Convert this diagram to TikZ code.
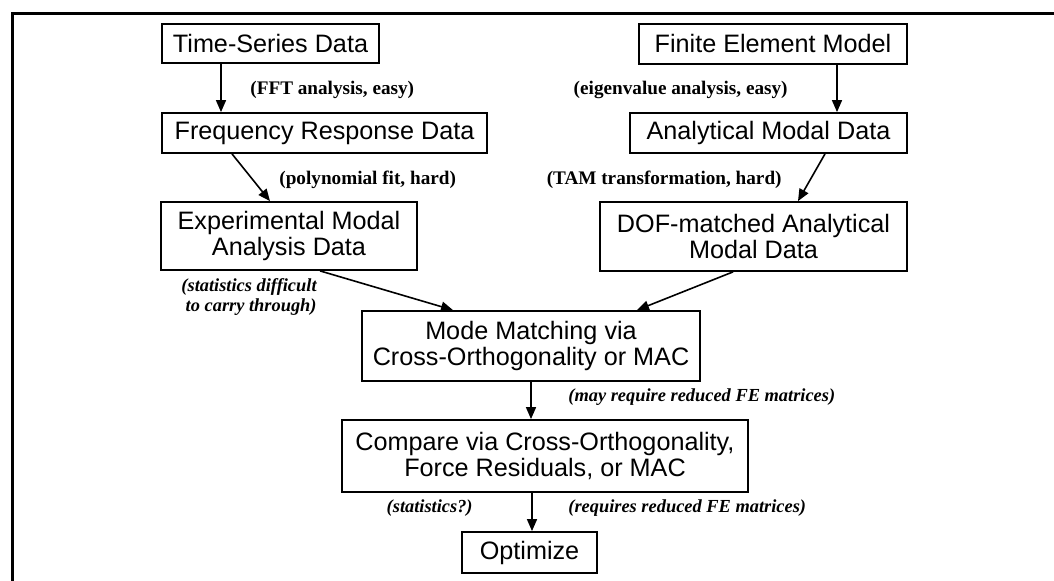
\documentclass[tikz,border=0pt]{standalone}
\usepackage{fontspec}
\setmainfont{Liberation Serif}
\newfontfamily\boxfont{Liberation Sans}
\usetikzlibrary{arrows.meta}

\begin{document}
\begin{tikzpicture}[x=0.5pt, y=-0.5pt,
    block/.style={rectangle, draw, line width=0.9pt, align=center, inner sep=0pt,
                  font=\boxfont\fontsize{12.6}{12.8}\selectfont},
    note/.style={inner sep=0pt, font=\bfseries\fontsize{9.6}{11}\selectfont},
    inote/.style={note, align=right, font=\bfseries\itshape\fontsize{9.2}{10.2}\selectfont},
    link/.style={-{Triangle[length=6pt,width=5pt]}, line width=0.8pt}
]
    \useasboundingbox (0,0) rectangle (1054,581);
    % open frame, left and top edges only
    \draw[line width=1.5pt] (12,581) -- (12,14) -- (1054,14);

    % test side
    \node[block, minimum width=108.5pt, minimum height=19.5pt] (ts) at (270.5,43.5) {Time-Series Data};
    \node[block, minimum width=162.5pt, minimum height=20pt] (frd) at (324.5,133) {Frequency Response Data};
    \node[block, minimum width=128pt, minimum height=34pt] (ema) at (289,236) {Experimental Modal\\Analysis Data};

    % analysis side
    \node[block, minimum width=134pt, minimum height=20pt] (fem) at (773,44) {Finite Element Model};
    \node[block, minimum width=138.5pt, minimum height=20pt] (amd) at (768.5,133) {Analytical Modal Data};
    \node[block, minimum width=153.5pt, minimum height=34.5pt] (dof) at (753.5,236.5) {DOF-matched Analytical\\Modal Data};

    % common path
    \node[block, minimum width=169pt, minimum height=35pt] (mm) at (531,346) {Mode Matching via\\Cross-Orthogonality or MAC};
    \node[block, minimum width=203pt, minimum height=36pt] (cmp) at (545,456) {Compare via Cross-Orthogonality,\\Force Residuals, or MAC};
    \node[block, minimum width=67.5pt, minimum height=20.5pt] (opt) at (529.5,552.5) {Optimize};

    % remarks on the steps
    \node[note, anchor=west] (fft) at (250,90) {(FFT analysis, easy)};
    \node[note, anchor=east] (eig) at (788,90) {(eigenvalue analysis, easy)};
    \node[note, anchor=west] (poly) at (279,180) {(polynomial fit, hard)};
    \node[note, anchor=east] (tam) at (782,180) {(TAM transformation, hard)};
    \node[inote, anchor=east] (stat) at (317,297) {(statistics difficult\\to carry through)};
    \node[inote, anchor=west] (may) at (568,397) {(may require reduced FE matrices)};
    \node[inote, anchor=east] (statq) at (473,508) {(statistics?)};
    \node[inote, anchor=west] (req) at (568,508) {(requires reduced FE matrices)};

    \draw[link] ([xshift=-24.75pt]ts.south) -- ([xshift=-24.75pt]ts.south |- frd.north);
    \draw[link] ([xshift=-46.25pt]frd.south) -- ([xshift=-9.5pt]ema.north);
    \draw[link] ([xshift=32pt]fem.south) -- ([xshift=32pt]fem.south |- amd.north);
    \draw[link] ([xshift=28.25pt]amd.south) -- ([xshift=22.25pt]dof.north);
    \draw[link] ([xshift=15.5pt]ema.south) -- ([xshift=-39pt]mm.north);
    \draw[link] ([xshift=-10.25pt]dof.south) -- ([xshift=53pt]mm.north);
    \draw[link] (mm.south) -- (mm.south |- cmp.north);
    \draw[link] ([xshift=-6.5pt]cmp.south) -- ([xshift=-6.5pt]cmp.south |- opt.north);
\end{tikzpicture}
\end{document}
